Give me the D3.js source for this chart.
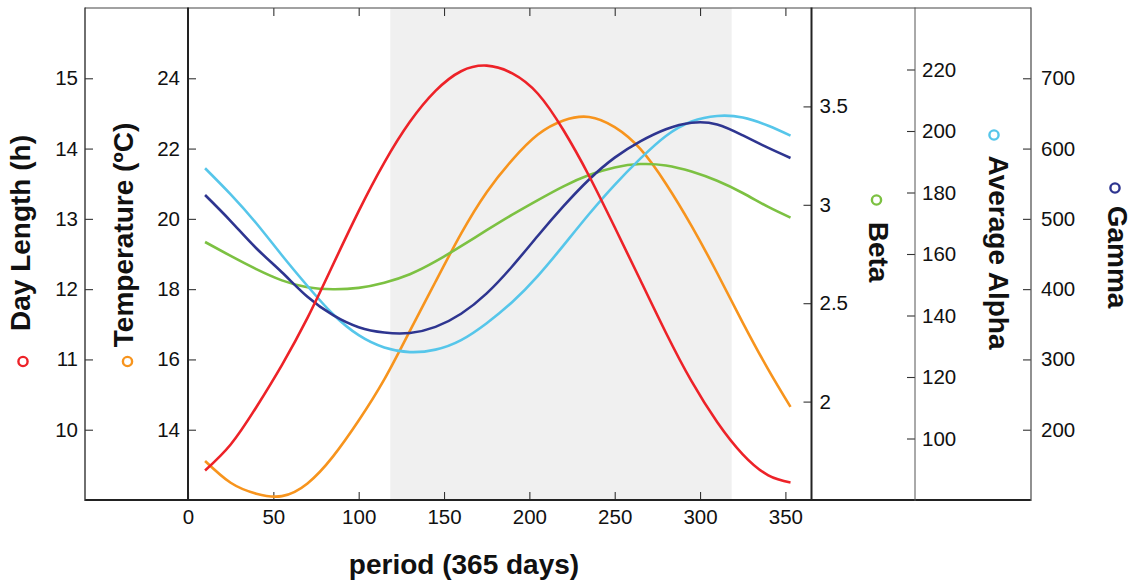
<!DOCTYPE html>
<html>
<head>
<meta charset="utf-8">
<script src="https://cdn.jsdelivr.net/npm/d3@7"></script>
<style>
  html, body { margin: 0; padding: 0; background: #fff; }
  svg { display: block; font-family: "Liberation Sans", Arial, Helvetica, sans-serif; }
</style>
</head>
<body>
<svg id="chart" width="1142" height="585"></svg>
<script>
// Sample days across the year
const days = [10, 25, 40, 55, 70, 85, 100, 115, 130, 145, 160, 175, 190, 205, 220, 235, 250, 265, 280, 295, 310, 325, 340, 353];

// Series values at each sample day
const dayLength = [9.42, 9.79, 10.32, 10.92, 11.59, 12.35, 13.11, 13.80, 14.38, 14.82, 15.10, 15.18, 15.07, 14.78, 14.26, 13.61, 12.88, 12.13, 11.38, 10.69, 10.11, 9.65, 9.35, 9.25];
const temperature = [13.11, 12.49, 12.18, 12.11, 12.47, 13.24, 14.26, 15.43, 16.81, 18.21, 19.58, 20.76, 21.68, 22.40, 22.80, 22.90, 22.61, 21.99, 21.00, 19.80, 18.46, 17.05, 15.71, 14.65];
const beta = [2.811, 2.740, 2.673, 2.616, 2.581, 2.571, 2.578, 2.604, 2.647, 2.712, 2.790, 2.871, 2.950, 3.024, 3.094, 3.151, 3.190, 3.207, 3.200, 3.169, 3.122, 3.060, 2.989, 2.935];
const averageAlpha = [187.9, 179.4, 170.0, 159.6, 149.6, 140.4, 133.6, 129.6, 128.1, 128.9, 132.0, 137.5, 144.4, 152.9, 162.8, 173.0, 182.5, 191.0, 198.4, 203.1, 204.9, 204.4, 201.7, 198.5];
const gamma = [533.9, 496.9, 458.2, 424.0, 389.1, 362.9, 345.8, 338.2, 337.6, 346.3, 365.0, 394.0, 432.6, 476.0, 518.0, 556.0, 587.1, 610.2, 627.5, 636.8, 634.4, 618.9, 600.9, 586.6];

// Highlighted period (days)
const highlightPeriod = [118.5, 318.5];

// Tick values
const periodTicks = [0, 50, 100, 150, 200, 250, 300, 350];
const dayLengthTicks = [10, 11, 12, 13, 14, 15];
const temperatureTicks = [14, 16, 18, 20, 22, 24];
const betaTicks = [2, 2.5, 3, 3.5];
const alphaTicks = [100, 120, 140, 160, 180, 200, 220];
const gammaTicks = [200, 300, 400, 500, 600, 700];

// Layout
const plotTop = 8, plotBottom = 500;
const plotLeft = 188, plotRight = 811;
const axisX = { dayLength: 85, temperature: 188, beta: 811.5, alpha: 915, gamma: 1031 };
const colors = {
  dayLength: "#ed2228",
  temperature: "#f7941d",
  beta: "#7cc142",
  alpha: "#56c6ea",
  gamma: "#2e3590"
};

const svg = d3.select("#chart");

const x = d3.scaleLinear().domain([0, 365]).range([plotLeft, plotRight]);
const yDay = d3.scaleLinear().domain([9, 16]).range([plotBottom, plotTop]);
const yTemp = d3.scaleLinear().domain([12, 26]).range([plotBottom, plotTop]);
const yBeta = d3.scaleLinear().domain([1.5, 4]).range([plotBottom, plotTop]);
const yAlpha = d3.scaleLinear().domain([80, 240]).range([plotBottom, plotTop]);
const yGamma = d3.scaleLinear().domain([100, 800]).range([plotBottom, plotTop]);

// Shaded period
svg.append("rect")
  .attr("x", x(highlightPeriod[0]))
  .attr("y", plotTop)
  .attr("width", x(highlightPeriod[1]) - x(highlightPeriod[0]))
  .attr("height", plotBottom - plotTop)
  .attr("fill", "#f0f0f0");

// Axes helpers
function styleAxis(g) {
  g.attr("font-size", null).attr("font-family", null);
  g.select(".domain").remove();
  g.selectAll(".tick line").attr("stroke", "#333").attr("stroke-width", 1.1);
  g.selectAll(".tick text").attr("font-size", 20.5).attr("fill", "#111");
}

function verticalAxis(scale, ticks, xPos, side, pad) {
  const ax = (side === "left" ? d3.axisLeft(scale) : d3.axisRight(scale))
    .tickValues(ticks)
    .tickFormat(d => String(d))
    .tickSizeInner(-8)
    .tickSizeOuter(0)
    .tickPadding(pad);
  svg.append("g").attr("transform", `translate(${xPos},0)`).call(ax).call(styleAxis);
}

verticalAxis(yDay, dayLengthTicks, axisX.dayLength, "left", 7);
verticalAxis(yTemp, temperatureTicks, axisX.temperature, "left", 8);
verticalAxis(yBeta, betaTicks, axisX.beta, "right", 8);
verticalAxis(yAlpha, alphaTicks, axisX.alpha, "right", 7);
verticalAxis(yGamma, gammaTicks, axisX.gamma, "right", 10);

// Period axis (bottom, labelled) and mirrored ticks on top
svg.append("g")
  .attr("transform", `translate(0,${plotBottom})`)
  .call(d3.axisBottom(x).tickValues(periodTicks).tickFormat(d => String(d))
    .tickSizeInner(-8).tickSizeOuter(0).tickPadding(9))
  .call(styleAxis);
svg.append("g")
  .attr("transform", `translate(0,${plotTop})`)
  .call(d3.axisTop(x).tickValues(periodTicks.filter(d => d > 0)).tickFormat("")
    .tickSizeInner(-8).tickSizeOuter(0))
  .call(styleAxis);

// Frame lines
const frame = svg.append("g").attr("fill", "none");
frame.append("line").attr("x1", axisX.dayLength).attr("x2", axisX.gamma)
  .attr("y1", plotTop).attr("y2", plotTop).attr("stroke", "#444").attr("stroke-width", 1.2);
frame.append("line").attr("x1", axisX.dayLength).attr("x2", axisX.gamma)
  .attr("y1", plotBottom).attr("y2", plotBottom).attr("stroke", "#222").attr("stroke-width", 2);
[[axisX.dayLength, 1.4, "#333"], [axisX.temperature, 2, "#222"], [axisX.beta, 2, "#222"],
 [axisX.alpha, 1, "#555"], [axisX.gamma, 1.3, "#555"]].forEach(([xp, w, c]) => {
  frame.append("line").attr("x1", xp).attr("x2", xp)
    .attr("y1", plotTop - 0.5).attr("y2", plotBottom + 1)
    .attr("stroke", c).attr("stroke-width", w);
});

// Curves
const series = [
  { values: temperature, y: yTemp, color: colors.temperature },
  { values: beta, y: yBeta, color: colors.beta },
  { values: averageAlpha, y: yAlpha, color: colors.alpha },
  { values: gamma, y: yGamma, color: colors.gamma },
  { values: dayLength, y: yDay, color: colors.dayLength }
];
series.forEach(s => {
  const line = d3.line()
    .x((d, i) => x(days[i]))
    .y(d => s.y(d))
    .curve(d3.curveNatural);
  svg.append("path")
    .datum(s.values)
    .attr("d", line)
    .attr("fill", "none")
    .attr("stroke", s.color)
    .attr("stroke-width", 2.6);
});

// Axis titles with legend markers
const titles = [
  { text: "Day Length (h)", x: 30, y: 233, rot: -90, color: colors.dayLength, cx: 23, cy: 361.5 },
  { text: "Temperature (ºC)", x: 133, y: 235, rot: -90, color: colors.temperature, cx: 127.5, cy: 361.5 },
  { text: "Beta", x: 869, y: 252, rot: 90, color: colors.beta, cx: 876.5, cy: 200 },
  { text: "Average Alpha", x: 989, y: 252.5, rot: 90, color: colors.alpha, cx: 994, cy: 135 },
  { text: "Gamma", x: 1108, y: 257, rot: 90, color: colors.gamma, cx: 1115, cy: 188 }
];
titles.forEach(t => {
  svg.append("text")
    .attr("transform", `translate(${t.x},${t.y}) rotate(${t.rot})`)
    .attr("text-anchor", "middle")
    .attr("font-size", 28)
    .attr("font-weight", "bold")
    .attr("fill", "#111")
    .text(t.text);
  svg.append("circle")
    .attr("cx", t.cx).attr("cy", t.cy).attr("r", 4.6)
    .attr("fill", "#fff").attr("stroke", t.color).attr("stroke-width", 2.4);
});

svg.append("text")
  .attr("x", 464).attr("y", 574)
  .attr("text-anchor", "middle")
  .attr("font-size", 28)
  .attr("font-weight", "bold")
  .attr("fill", "#111")
  .text("period (365 days)");
</script>
</body>
</html>
